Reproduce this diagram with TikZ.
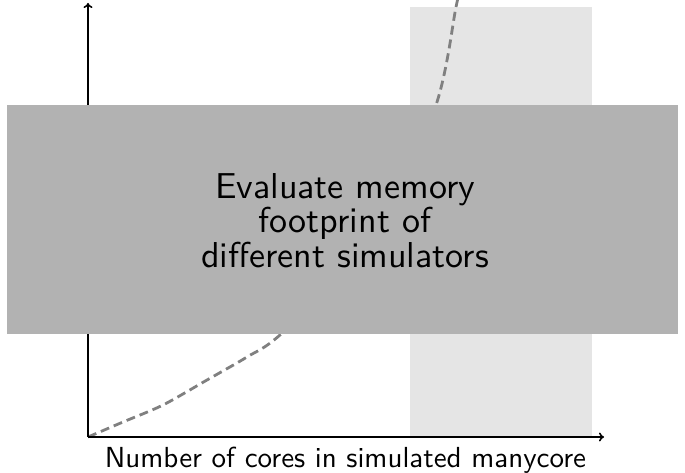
\documentclass[tikz,border=0pt]{standalone}
\usetikzlibrary{arrows.meta}
\setlength{\lineskiplimit}{-100pt}
\begin{document}
\begin{tikzpicture}[x=1pt,y=-1pt,
  axis/.style={line width=1.6pt,-{To[length=5pt,width=9pt]}},
  curvestyle/.style={gray,line width=2.8pt,dash pattern=on 9pt off 5pt},
  bigbox/.style={fill=black!30,draw=none,minimum width=671pt,minimum height=229pt,inner sep=0pt},
  boxtext/.style={font=\sffamily\fontsize{10}{9.72}\selectfont,align=center,scale=3.6,transform shape,inner sep=0pt},
  labeltext/.style={font=\sffamily\fontsize{10}{12}\selectfont,scale=2.9,transform shape,inner sep=0pt}]
\useasboundingbox (0,0) rectangle (685,473);
\clip (0,0) rectangle (685,473);
\fill[black!10] (410,7) rectangle (592,437);
\draw[curvestyle] plot[smooth] coordinates {(88,437) (123,422) (163,405) (207,380) (247,357) (280,335) (370,250) (435,108) (456,7) (459,-5)};
\coordinate (o) at (88,437);
\coordinate (xe) at (604,437);
\coordinate (ye) at (88,3);
\draw[axis] (o) -- (xe);
\draw[axis] (o) -- (ye);
\node[bigbox] (box) at (342.5,219.5) {};
\node[boxtext] (boxlabel) at (345,220.7) {Evaluate memory\\footprint of\\different simulators};
\node[labeltext] (xl) at (345.5,459.8) {Number of cores in simulated manycore};
\end{tikzpicture}
\end{document}
